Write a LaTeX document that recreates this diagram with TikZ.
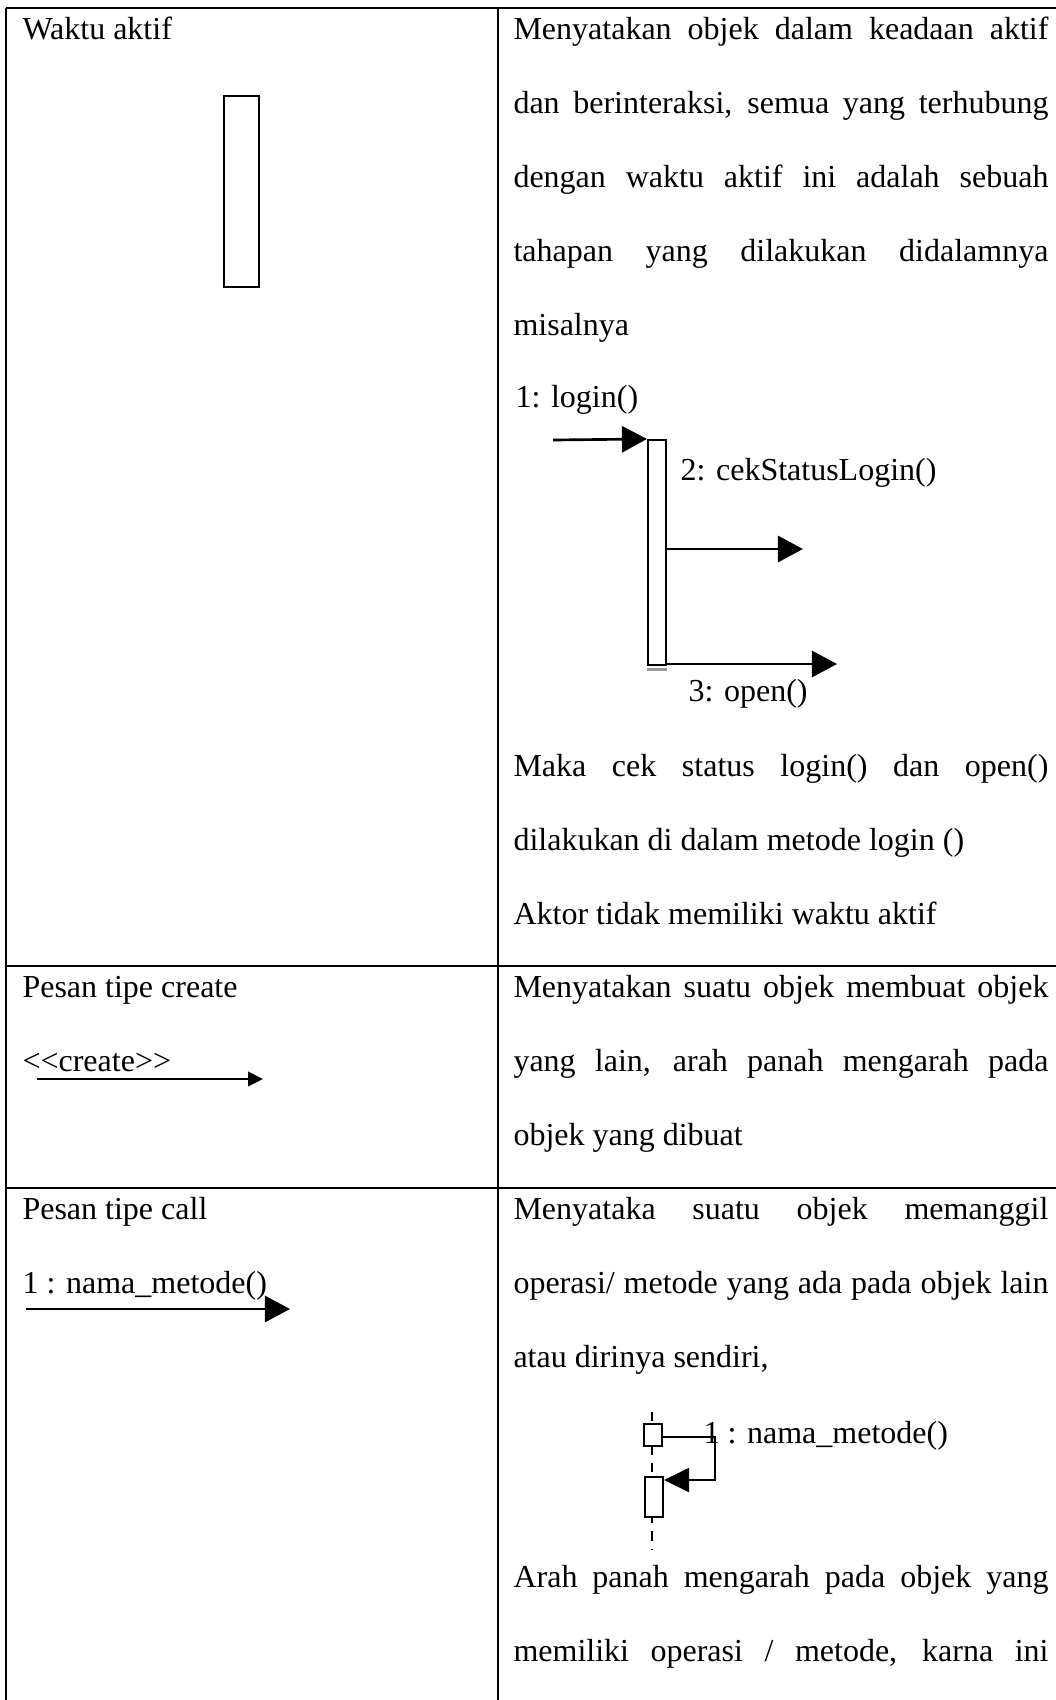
\documentclass[tikz,border=0pt]{standalone}
\usepackage{fontspec}
\setmainfont{Liberation Serif}[Ligatures=TeXOff]
\usetikzlibrary{arrows.meta}
\tikzset{
	celltext/.style={anchor=base west, inner sep=0pt, font=\fontsize{12}{14}\selectfont},
	gridline/.style={line width=0.6pt},
	actbox/.style={draw, line width=0.75pt, fill=white, inner sep=0pt},
	bigmsg/.style={line width=1pt, -{Triangle[length=9.4pt, width=9.8pt]}},
	smallmsg/.style={line width=0.9pt, -{Triangle[length=5.6pt, width=5.4pt]}},
	loopmsg/.style={line width=0.8pt, -{Triangle[length=9.4pt, width=9pt]}},
}
\def\jline#1{\makebox[200.6pt][s]{#1}}

\begin{document}
\begin{tikzpicture}[x=0.375pt, y=-0.375pt]
			%%%%% START %%%%%
			\useasboundingbox (0,0) rectangle (1056,1700);
			
			\draw[gridline] (6,8) -- (1056,8);
			\draw[gridline] (6,8) -- (6,1700);
			\draw[gridline] (498,8) -- (498,1700);
			\draw[gridline] (6,966) -- (1056,966);
			\draw[gridline] (6,1188) -- (1056,1188);
			
			%%%%% waktu aktif %%%%%
			\node[celltext] (waktu) at (22,39) {Waktu aktif};
			\node[actbox, minimum width=13.1pt, minimum height=71.6pt] (aktifbox) at (241.5,191.5) {};
			
			\node[celltext] (desc1a) at (513,39) {\jline{Menyatakan objek dalam keadaan aktif}};
			\node[celltext] (desc1b) at (513,113) {\jline{dan berinteraksi, semua yang terhubung}};
			\node[celltext] (desc1c) at (513,187) {\jline{dengan waktu aktif ini adalah sebuah}};
			\node[celltext] (desc1d) at (513,261) {\jline{tahapan yang dilakukan didalamnya}};
			\node[celltext] (desc1e) at (513,335) {misalnya};
			
			\node[celltext] (login) at (515,407) {1: login()};
			\node[actbox, minimum width=6.75pt, minimum height=84.4pt] (loginbar) at (657,552.5) {};
			\draw[black!40, line width=1.2pt] ([yshift=-1.2pt]loginbar.south west) -- ([yshift=-1.2pt]loginbar.south east);
			\coordinate (loginstart) at (553,440);
			\coordinate (cekend) at (803,549);
			\coordinate (openend) at (837,664);
			\draw[bigmsg] (loginstart) -- (loginbar.north west);
			\draw[bigmsg] (cekend -| loginbar.east) -- (cekend);
			\draw[bigmsg] (openend -| loginbar.east) -- (openend);
			\node[celltext] (cekstatus) at (680,480) {2: cekStatusLogin()};
			\node[celltext] (open) at (688,701) {3: open()};
			
			\node[celltext] (desc1f) at (513,776) {\jline{Maka cek status login() dan open()}};
			\node[celltext] (desc1g) at (513,850) {dilakukan di dalam metode login ()};
			\node[celltext] (desc1h) at (513,924) {Aktor tidak memiliki waktu aktif};
			
			%%%%% pesan create %%%%%
			\node[celltext] (pesancreate) at (22,997) {Pesan tipe create};
			\node[celltext] (createlbl) at (22,1071) {<<create>>};
			\coordinate (createstart) at (37,1079);
			\coordinate (createend) at (263,1079);
			\draw[smallmsg] (createstart) -- (createend);
			
			\node[celltext] (desc2a) at (513,997) {\jline{Menyatakan suatu objek membuat objek}};
			\node[celltext] (desc2b) at (513,1071) {\jline{yang lain, arah panah mengarah pada}};
			\node[celltext] (desc2c) at (513,1145) {objek yang dibuat};
			
			%%%%% pesan call %%%%%
			\node[celltext] (pesancall) at (22,1219) {Pesan tipe call};
			\node[celltext] (calllbl) at (22,1293) {1 : nama\_metode()};
			\coordinate (callstart) at (26,1309);
			\coordinate (callend) at (290,1309);
			\draw[bigmsg] (callstart) -- (callend);
			
			\node[celltext] (desc3a) at (513,1219) {\jline{Menyataka suatu objek memanggil}};
			\node[celltext] (desc3b) at (513,1293) {\jline{operasi/ metode yang ada pada objek lain}};
			\node[celltext] (desc3c) at (513,1367) {atau dirinya sendiri,};
			
			\coordinate (lifetop) at (652,1412);
			\coordinate (lifebot) at (652,1550);
			\draw[line width=0.9pt, dash pattern=on 3.4pt off 3pt] (lifetop) -- (lifebot);
			\node[actbox, minimum width=6.75pt, minimum height=8.25pt] (callbox) at (653,1435) {};
			\node[actbox, minimum width=6.75pt, minimum height=15pt] (selfbox) at (654,1497) {};
			\coordinate (loopcorner) at (715,1437);
			\coordinate (loopback) at (715,1480);
			\draw[loopmsg] (callbox.east |- loopcorner) -- (loopcorner) -- (loopback) -- (loopback -| selfbox.east);
			\node[celltext] (selfcall) at (703,1443) {1 : nama\_metode()};
			
			\node[celltext] (desc3d) at (513,1587) {\jline{Arah panah mengarah pada objek yang}};
			\node[celltext] (desc3e) at (513,1661) {\jline{memiliki operasi / metode, karna ini}};
			
			%%%%% END %%%%%
\end{tikzpicture}
\end{document}
